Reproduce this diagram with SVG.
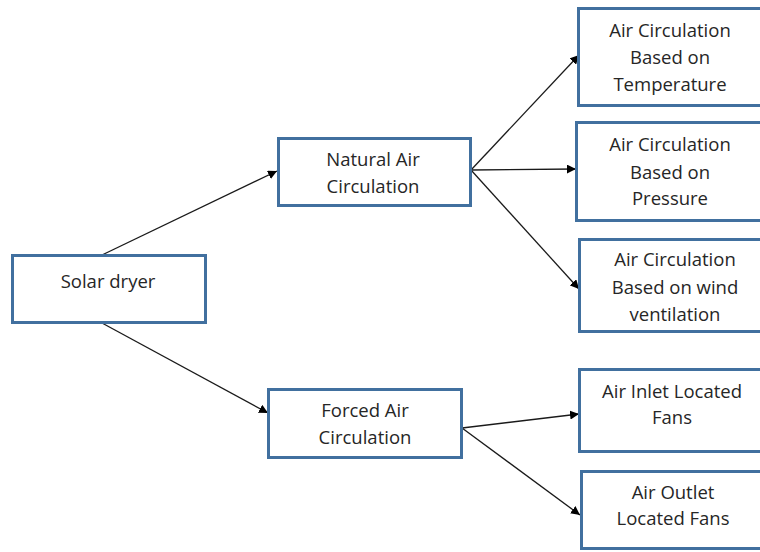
<svg xmlns="http://www.w3.org/2000/svg" width="760" height="552" viewBox="0 0 760 552">
  <style>
    .box { fill: #ffffff; stroke: #41709f; stroke-width: 3; }
    .lbl { font-family: "Open Sans", "Liberation Sans", sans-serif; font-size: 18.5px; fill: #262626; text-anchor: middle; }
    .link { stroke: #1a1a1a; stroke-width: 1.3; fill: none; marker-end: url(#arrow); }
  </style>
  <defs>
    <marker id="arrow" viewBox="0 0 10 10" refX="10" refY="5" markerWidth="9" markerHeight="9" markerUnits="userSpaceOnUse" orient="auto">
      <path d="M0,0 L10,5 L0,10 z" fill="#000000"/>
    </marker>
  </defs>
  <rect width="760" height="552" fill="#ffffff"/>

  <g id="connectors">
    <line class="link" x1="102" y1="255" x2="277" y2="171"/>
    <line class="link" x1="102" y1="323" x2="268" y2="413"/>
    <line class="link" x1="471" y1="170" x2="579" y2="55"/>
    <line class="link" x1="471" y1="170" x2="576" y2="169"/>
    <line class="link" x1="471" y1="170" x2="579" y2="289"/>
    <line class="link" x1="462" y1="428" x2="579" y2="414"/>
    <line class="link" x1="462" y1="428" x2="580" y2="515"/>
  </g>

  <g id="solar-dryer">
    <rect class="box" x="12.5" y="255.5" width="193" height="67"/>
    <text class="lbl" x="108" y="288">Solar dryer</text>
  </g>

  <g id="natural-air">
    <rect class="box" x="278.5" y="138.5" width="192" height="67"/>
    <text class="lbl" x="373" y="166">Natural Air</text>
    <text class="lbl" x="373" y="193">Circulation</text>
  </g>

  <g id="forced-air">
    <rect class="box" x="268.5" y="389.5" width="193" height="68"/>
    <text class="lbl" x="365" y="417">Forced Air</text>
    <text class="lbl" x="365" y="444">Circulation</text>
  </g>

  <g id="temperature">
    <rect class="box" x="578.5" y="8.5" width="200" height="97"/>
    <text class="lbl" x="670" y="37">Air Circulation</text>
    <text class="lbl" x="670" y="64">Based on</text>
    <text class="lbl" x="670" y="91">Temperature</text>
  </g>

  <g id="pressure">
    <rect class="box" x="576.5" y="122.5" width="200" height="98"/>
    <text class="lbl" x="670" y="151">Air Circulation</text>
    <text class="lbl" x="670" y="179">Based on</text>
    <text class="lbl" x="670" y="205">Pressure</text>
  </g>

  <g id="wind">
    <rect class="box" x="579.5" y="239.5" width="200" height="92"/>
    <text class="lbl" x="675" y="266">Air Circulation</text>
    <text class="lbl" x="675" y="294">Based on wind</text>
    <text class="lbl" x="675" y="321">ventilation</text>
  </g>

  <g id="inlet-fans">
    <rect class="box" x="579.5" y="369.5" width="200" height="82"/>
    <text class="lbl" x="672" y="398">Air Inlet Located</text>
    <text class="lbl" x="672" y="424">Fans</text>
  </g>

  <g id="outlet-fans">
    <rect class="box" x="581.5" y="471.5" width="200" height="77"/>
    <text class="lbl" x="673" y="499">Air Outlet</text>
    <text class="lbl" x="673" y="525">Located Fans</text>
  </g>
</svg>
